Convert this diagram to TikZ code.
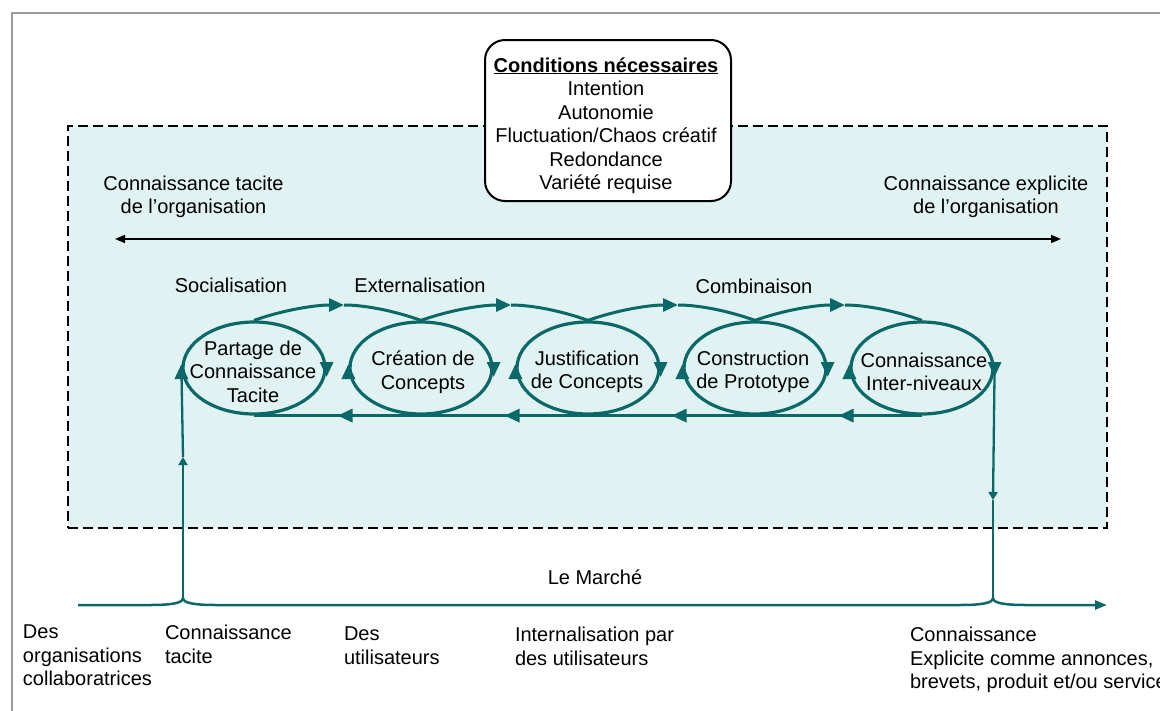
\documentclass[tikz,border=0pt]{standalone}
\usepackage{fontspec}
\setmainfont{Liberation Sans}
\usetikzlibrary{arrows.meta,shapes.geometric,calc,decorations.markings}
\definecolor{flowc}{RGB}{10,104,104}
\definecolor{zonec}{RGB}{224,242,242}
\definecolor{framec}{RGB}{155,155,155}
\begin{document}
\begin{tikzpicture}[x=1pt,y=1pt,
  txt/.style={font=\fontsize{20}{23.5}\selectfont, inner sep=0pt, outer sep=0pt},
  loopell/.style={ellipse, draw=flowc, line width=3.2pt, minimum width=142pt, minimum height=92pt, inner sep=0pt},
  flow/.style={draw=flowc, line width=3pt},
  riser/.style={draw=flowc, line width=2.3pt},
  market/.style={draw=flowc, line width=2.5pt},
  bigtip/.style={-{Triangle[length=15pt,width=13pt]}},
  smalltip/.style={-{Triangle[length=8pt,width=9pt]}},
  backmarks/.style={postaction={decorate}, decoration={markings,
     mark=at position 0.125 with {\arrow{Triangle[length=15pt,width=13pt]}},
     mark=at position 0.375 with {\arrow{Triangle[length=15pt,width=13pt]}},
     mark=at position 0.625 with {\arrow{Triangle[length=15pt,width=13pt]}},
     mark=at position 0.875 with {\arrow{Triangle[length=15pt,width=13pt]}}}},
]
\useasboundingbox (0,0) rectangle (1160,-710);

% outer frame
\draw[framec, line width=1.3pt] (12,-712) -- (12,-13) -- (1162,-13);

% dashed zone
\node[draw=black, dash pattern=on 10pt off 5pt, line width=2.5pt, fill=zonec,
      minimum width=1039pt, minimum height=402pt, inner sep=0pt] (zone) at (587.5,-327) {};

% conditions box
\node[draw=black, line width=2pt, rounded corners=20pt, fill=white,
      minimum width=246pt, minimum height=161pt, inner sep=0pt] (condbox) at (608,-120.5) {};
\node[txt, align=center] (condtext) at (606,-125.5)
  {\textbf{\underline{Conditions nécessaires}}\\Intention\\Autonomie\\Fluctuation/Chaos créatif\\Redondance\\Variété requise};

% tacit / explicit axis
\node[txt, align=center, anchor=north] (tacitorg) at (193.5,-176) {Connaissance tacite\\de l’organisation};
\node[txt, align=center, anchor=north] (explorg) at (986,-176) {Connaissance explicite\\de l’organisation};
\coordinate (axl) at (115,-239);
\coordinate (axr) at (1061,-239);
\draw[line width=1.5pt, {Triangle[length=10pt,width=8pt]}-{Triangle[length=10pt,width=8pt]}] (axl) -- (axr);

% mode labels
\node[txt] (soc) at (231,-285) {Socialisation};
\node[txt] (ext) at (420,-285) {Externalisation};
\node[txt] (comb) at (754,-286) {Combinaison};

% ellipses
\node[loopell] (e1) at (254,-368) {};
\node[loopell] (e2) at (421,-368) {};
\node[loopell] (e3) at (588,-368) {};
\node[loopell] (e4) at (755,-368) {};
\node[loopell] (e5) at (922,-368) {};

\node[txt, align=center] (t1) at (253,-371.5) {Partage de\\Connaissance\\Tacite};
\node[txt, align=center] (t2) at (423,-372) {Création de\\Concepts};
\node[txt, align=center] (t3) at (587,-372) {Justification\\de Concepts};
\node[txt, align=center] (t4) at (753,-372) {Construction\\de Prototype};
\node[txt, align=center] (t5) at (924,-372) {Connaissance\\Inter-niveaux};

% side arrows of each loop (clockwise)
\foreach \e in {e1,e2,e3,e4,e5}{
  \draw[flow, bigtip] ($(\e.east)+(0,6)$) -- ($(\e.east)+(0,-9)$);
  \draw[flow, bigtip] ($(\e.west)+(0,-11)$) -- ($(\e.west)+(0,4)$);
}

% forward waves on top
\coordinate (ap1) at (344,-305);
\coordinate (ap2) at (511,-305);
\coordinate (ap3) at (678,-305);
\coordinate (ap4) at (845,-305);
\draw[flow, bigtip] (e1.north) .. controls +(28,10) and +(-30,0) .. (ap1);
\draw[flow] (ap1) .. controls +(22,0) and +(-25,9) .. (e2.north);
\draw[flow, bigtip] (e2.north) .. controls +(28,10) and +(-30,0) .. (ap2);
\draw[flow] (ap2) .. controls +(22,0) and +(-25,9) .. (e3.north);
\draw[flow, bigtip] (e3.north) .. controls +(28,10) and +(-30,0) .. (ap3);
\draw[flow] (ap3) .. controls +(22,0) and +(-25,9) .. (e4.north);
\draw[flow, bigtip] (e4.north) .. controls +(28,10) and +(-30,0) .. (ap4);
\draw[flow] (ap4) .. controls +(22,0) and +(-25,9) .. (e5.north);

% return line at bottom
\draw[flow, backmarks] (e5.south) -- (e1.south);

% market line
\coordinate (mstart) at (78,-605);
\coordinate (cuspL) at (183,-598);
\coordinate (cuspR) at (993,-598);
\coordinate (mend) at (1107,-605);
\draw[market, -{Triangle[length=12pt,width=9pt]}] (mstart) -- (150,-605)
  .. controls +(22,0) and +(0,-5) .. (cuspL)
  .. controls +(0,-5) and +(-22,0) .. (216,-605) -- (960,-605)
  .. controls +(22,0) and +(0,-5) .. (cuspR)
  .. controls +(0,-5) and +(-22,0) .. (1026,-605) -- (mend);

% risers
\coordinate (va1) at (183,-457);
\coordinate (va2) at (993,-500);
\draw[riser, smalltip] (cuspL) -- (va1);
\draw[riser] (va1) -- (e1.west);
\draw[riser, smalltip] (e5.east) -- (va2);
\draw[riser] (va2) -- (cuspR);

\node[txt] (marche) at (595,-577) {Le Marché};

% bottom labels
\node[txt, align=left, anchor=north west] (b1) at (23,-625) {Des\\organisations\\collaboratrices};
\node[txt, align=left, anchor=north west] (b2) at (165,-625) {Connaissance\\tacite};
\node[txt, align=left, anchor=north west] (b3) at (344,-627) {Des\\utilisateurs};
\node[txt, align=left, anchor=north west] (b4) at (515,-627) {Internalisation par\\des utilisateurs};
\node[txt, align=left, anchor=north west] (b5) at (910,-627) {Connaissance\\Explicite comme annonces,\\brevets, produit et/ou service};
\end{tikzpicture}
\end{document}
